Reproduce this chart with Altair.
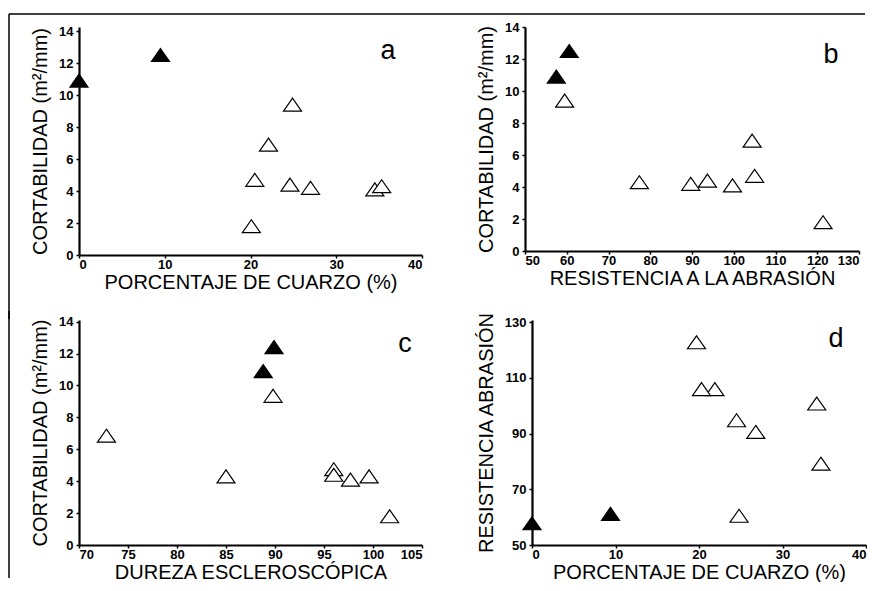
import altair as alt
import pandas as pd

# ---- data ----
kind = ["f", "f", "o", "o", "o", "o", "o", "o", "o", "o"]  # f = filled, o = open

a_quartz = [0, 9.5, 24.9, 22.1, 20.5, 24.6, 27.0, 34.5, 35.3, 20.1]
a_cort = [10.9, 12.5, 9.4, 6.9, 4.7, 4.4, 4.2, 4.1, 4.3, 1.8]

b_res = [57.5, 60.6, 59.5, 104.4, 105.0, 93.7, 89.7, 99.7, 77.4, 121.4]
b_cort = [10.9, 12.5, 9.4, 6.9, 4.7, 4.4, 4.2, 4.1, 4.3, 1.8]

c_dur = [88.8, 89.9, 89.8, 72.8, 96.0, 96.0, 99.6, 97.7, 85.0, 101.7]
c_cort = [10.9, 12.4, 9.35, 6.85, 4.75, 4.4, 4.3, 4.1, 4.3, 1.8]

d_quartz = [0, 9.4, 24.8, 21.9, 20.3, 24.5, 26.8, 34.1, 34.6, 19.7]
d_res = [57.8, 61.2, 60.5, 106.0, 106.0, 94.8, 90.6, 100.8, 79.2, 122.8]

FONT = "Liberation Sans"
TRI = "M0,-0.72L1,0.72L-1,0.72Z"


def rule(**enc):
    return alt.Chart(pd.DataFrame({"t": [0]})).mark_rule(
        color="black", strokeWidth=1.5, clip=False
    ).encode(**{k: alt.value(v) for k, v in enc.items()})


def panel(xv, yv, xtitle, ytitle, xdom, ydom, xticks, yticks, w, h, letter, lx, ly, extra=()):
    df = pd.DataFrame({"x": xv, "y": yv, "k": kind})
    pts = alt.Chart(df).mark_point(
        shape=TRI, size=324, filled=True, stroke="black", strokeWidth=1.2,
        opacity=1, clip=False,
    ).encode(
        x=alt.X("x:Q", scale=alt.Scale(domain=xdom, nice=False, zero=False),
                axis=alt.Axis(values=xticks, title=xtitle)),
        y=alt.Y("y:Q", scale=alt.Scale(domain=ydom, nice=False, zero=False),
                axis=alt.Axis(values=yticks, title=ytitle)),
        fill=alt.Fill("k:N", scale=alt.Scale(domain=["f", "o"], range=["black", "white"]),
                      legend=None),
    )
    txt = alt.Chart(pd.DataFrame({"t": [letter]})).mark_text(
        font=FONT, fontSize=27, align="center", baseline="alphabetic", color="black"
    ).encode(x=alt.value(lx), y=alt.value(ly), text="t:N")
    return alt.layer(pts, txt, *extra).properties(width=w, height=h)


ycort = "CORTABILIDAD (m²/mm)"
# frame lines of the original figure (top edge and left edge)
frame_a = [rule(x=-70, x2=786, y=-13), rule(x=-70, y=-13, y2=292)]
frame_c = [rule(x=-70, y=-9, y2=258)]

a = panel(a_quartz, a_cort, "PORCENTAJE DE CUARZO (%)", ycort, [0, 40], [0, 14.25],
          [0, 10, 20, 30, 40], list(range(0, 15, 2)), 343, 228, "a", 309, 32, frame_a)
b = panel(b_res, b_cort, "RESISTENCIA A LA ABRASIÓN", ycort, [50, 130], [0, 14],
          list(range(50, 131, 10)), list(range(0, 15, 2)), 334, 224, "b", 306, 36)
c = panel(c_dur, c_cort, "DUREZA ESCLEROSCÓPICA", ycort, [70, 105], [0, 14.1],
          list(range(70, 106, 5)), list(range(0, 15, 2)), 343, 225, "c", 326, 32, frame_c)
d = panel(d_quartz, d_res, "PORCENTAJE DE CUARZO (%)", "RESISTENCIA ABRASIÓN", [0, 40], [50, 130.8],
          [0, 10, 20, 30, 40], [50, 70, 90, 110, 130], 334, 225, "d", 304, 27)

row1 = alt.hconcat(a, b, spacing=103, bounds="flush")
row2 = alt.hconcat(c, d, spacing=110, bounds="flush")

chart = alt.vconcat(row1, row2, spacing=-10).properties(
    padding={"left": 0, "top": 5, "right": 0, "bottom": 0}
).configure_view(stroke=None).configure_axis(
    grid=False,
    domainColor="black", domainWidth=2.2,
    tickColor="black", tickSize=3, tickWidth=1.5,
    labelFont=FONT, labelFontWeight="bold", labelFontSize=13, labelColor="black",
    titleFont=FONT, titleFontWeight="normal", titleFontSize=20, titleColor="black",
).configure_axisX(titlePadding=1, labelPadding=0).configure_axisY(titlePadding=8, labelPadding=3)

chart.save("out.html", embed_options={"renderer": "svg", "actions": False})
